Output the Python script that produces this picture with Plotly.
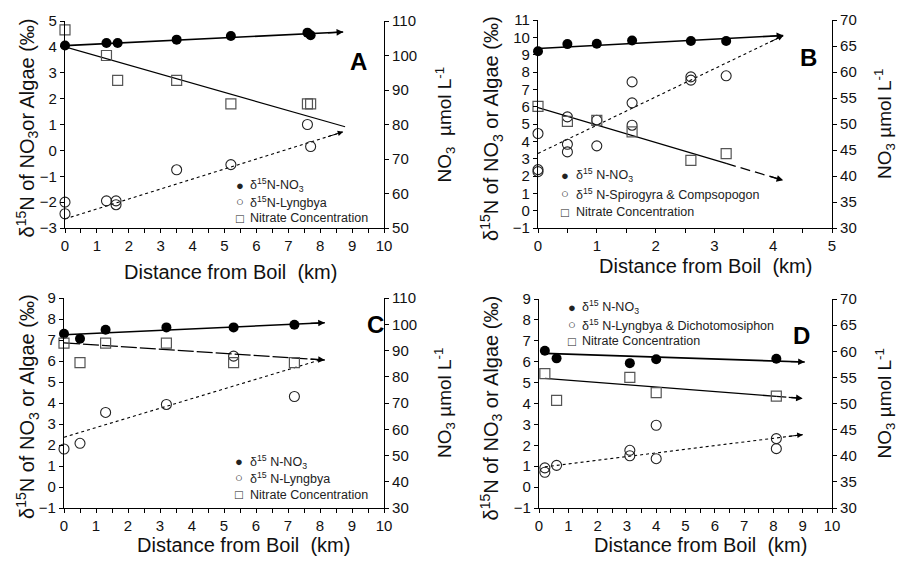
import plotly.graph_objects as go

FONT = "Liberation Sans, Arial, Helvetica, sans-serif"
W, H = 898, 564

# ---------------- Data ----------------
# Panel A
A_no3_x = [0, 1.3, 1.65, 3.5, 5.2, 7.6, 7.7]
A_no3_y = [4.05, 4.15, 4.15, 4.28, 4.42, 4.55, 4.45]
A_alg_x = [0, 0, 1.3, 1.6, 1.6, 3.5, 5.2, 7.6, 7.7]
A_alg_y = [-2.0, -2.45, -1.95, -1.95, -2.1, -0.75, -0.55, 1.0, 0.15]
A_nit_x = [0, 1.3, 1.65, 3.5, 5.2, 7.6, 7.7]
A_nit_y = [107.4, 100.0, 92.8, 92.8, 86.0, 86.0, 86.0]
# trend lines: [intercept, slope, x_start, x_end]
A_tr_no3 = [4.05, 0.06, 0, 8.72]
A_tr_alg = [-2.65, 0.386, 0, 8.72]
A_tr_nit = [102.5, -2.64, 0, 8.78]

# Panel B
B_no3_x = [0, 0.5, 1, 1.6, 2.6, 3.2]
B_no3_y = [9.2, 9.61, 9.63, 9.82, 9.79, 9.79]
B_alg_x = [0, 0, 0, 0.5, 0.5, 0.5, 1, 1, 1.6, 1.6, 1.6, 2.6, 2.6, 3.2]
B_alg_y = [4.45, 2.37, 2.25, 5.41, 3.83, 3.39, 5.22, 3.74, 7.43, 6.22, 4.93, 7.72, 7.53, 7.78]
B_nit_x = [0, 0.5, 1, 1.6, 2.6, 3.2]
B_nit_y = [53.4, 50.5, 50.7, 48.5, 43.0, 44.3]
B_tr_no3 = [9.36, 0.178, 0, 4.17]
B_tr_alg = [3.3, 1.63, 0, 4.17]
B_tr_nit = [53.17, -3.36, 0, 4.17]

# Panel C
C_no3_x = [0, 0.5, 1.3, 3.2, 5.3, 7.2]
C_no3_y = [7.3, 7.06, 7.49, 7.6, 7.6, 7.73]
C_alg_x = [0, 0.5, 1.3, 3.2, 5.3, 7.2]
C_alg_y = [1.81, 2.08, 3.55, 3.93, 6.23, 4.31]
C_nit_x = [0, 0.5, 1.3, 3.2, 5.3, 7.2]
C_nit_y = [92.8, 85.4, 92.8, 92.8, 85.4, 85.4]
C_tr_no3 = [7.25, 0.07, 0, 8.15]
C_tr_alg = [2.37, 0.46, 0, 8.0]
C_tr_nit = [92.9, -0.8, 0, 8.15]

# Panel D
D_no3_x = [0.2, 0.6, 3.1, 4.0, 8.1]
D_no3_y = [6.52, 6.16, 5.93, 6.12, 6.14]
D_alg_x = [0.2, 0.2, 0.6, 3.1, 3.1, 4.0, 4.0, 8.1, 8.1]
D_alg_y = [0.92, 0.71, 1.04, 1.76, 1.5, 2.96, 1.36, 2.32, 1.84]
D_nit_x = [0.2, 0.6, 3.1, 4.0, 8.1]
D_nit_y = [55.7, 50.6, 55.0, 52.1, 51.4]
D_tr_no3 = [6.41, -0.047, 0.2, 9.07]
D_tr_alg = [0.935, 0.175, 0.2, 9.0]
D_tr_nit = [54.9, -0.436, 0.2, 9.0]

Y_TITLE_A = "δ<sup>15</sup>N of NO<sub>3</sub>or Algae (‰)"
Y_TITLE = "δ<sup>15</sup>N of NO<sub>3</sub> or Algae (‰)"
Y2_TITLE_1 = "NO<sub>3</sub>  µmol L<sup>-1</sup>"
Y2_TITLE_2 = "NO<sub>3</sub> µmol L<sup>-1</sup>"
X_TITLE = "Distance from Boil \u00a0(km)"

panels = [
    dict(letter="A", xa="x", ya="y", yb="y2", xr=[0, 10], yr=[-3, 5], ydt=1, y2r=[50, 110], y2dt=10,
         px=(65, 384), py=(21, 228),
         no3=(A_no3_x, A_no3_y), alg=(A_alg_x, A_alg_y), nit=(A_nit_x, A_nit_y),
         tr_no3=A_tr_no3, tr_alg=A_tr_alg, tr_nit=A_tr_nit,
         arrows=(True, True, False), nit_style="solid",
         legend=["δ<sup>15</sup>N-NO<sub>3</sub>", "δ<sup>15</sup>N-Lyngbya", "Nitrate Concentration"],
         leg_pos=(240, 248, [185, 201.5, 218]),
         ytitle=Y_TITLE_A, y2title=Y2_TITLE_1, ytx=27, y2tx=445, xtitle_pos=(231, 272),
         letter_pos=(358, 62)),
    dict(letter="B", xa="x2", ya="y3", yb="y4", xr=[0, 5], yr=[-1, 11], ydt=1, y2r=[30, 70], y2dt=5,
         px=(538, 832), py=(20, 228),
         no3=(B_no3_x, B_no3_y), alg=(B_alg_x, B_alg_y), nit=(B_nit_x, B_nit_y),
         tr_no3=B_tr_no3, tr_alg=B_tr_alg, tr_nit=B_tr_nit,
         arrows=(True, True, True), nit_style="split",
         legend=["δ<sup>15</sup> N-NO<sub>3</sub>", "δ<sup>15</sup> N-Spirogyra & Compsopogon", "Nitrate Concentration"],
         leg_pos=(565, 574, [175, 193.5, 212]),
         ytitle=Y_TITLE, y2title=Y2_TITLE_2, ytx=491, y2tx=885, xtitle_pos=(705, 266),
         letter_pos=(808, 57)),
    dict(letter="C", xa="x3", ya="y5", yb="y6", xr=[0, 10], yr=[-1, 9], ydt=1, y2r=[30, 110], y2dt=10,
         px=(64, 384), py=(298, 508),
         no3=(C_no3_x, C_no3_y), alg=(C_alg_x, C_alg_y), nit=(C_nit_x, C_nit_y),
         tr_no3=C_tr_no3, tr_alg=C_tr_alg, tr_nit=C_tr_nit,
         arrows=(True, False, True), nit_style="dash",
         legend=["δ<sup>15</sup> N-NO<sub>3</sub>", "δ<sup>15</sup> N-Lyngbya", "Nitrate Concentration"],
         leg_pos=(239, 248, [461.5, 478, 494.5]),
         ytitle=Y_TITLE, y2title=Y2_TITLE_2, ytx=27, y2tx=445, xtitle_pos=(243, 545),
         letter_pos=(375, 324)),
    dict(letter="D", xa="x4", ya="y7", yb="y8", xr=[0, 10], yr=[-1, 9], ydt=1, y2r=[30, 70], y2dt=5,
         px=(539, 832), py=(299, 508),
         no3=(D_no3_x, D_no3_y), alg=(D_alg_x, D_alg_y), nit=(D_nit_x, D_nit_y),
         tr_no3=D_tr_no3, tr_alg=D_tr_alg, tr_nit=D_tr_nit,
         arrows=(True, True, True), nit_style="split",
         legend=["δ<sup>15</sup> N-NO<sub>3</sub>", "δ<sup>15</sup> N-Lyngbya & Dichotomosiphon", "Nitrate Concentration"],
         leg_pos=(572, 580, [307, 324.5, 341]),
         ytitle=Y_TITLE, y2title=Y2_TITLE_2, ytx=491, y2tx=885, xtitle_pos=(700, 545),
         letter_pos=(801, 335)),
]

fig = go.Figure()
annotations = []


def fx(px):
    return px / W


def fy(py):
    return 1 - py / H


def axname(ref):
    return ref[0] + "axis" + ref[1:]


def line_pts(tr, x_from=None, x_to=None):
    b, m, x0, x1 = tr
    if x_from is None:
        x_from = x0
    if x_to is None:
        x_to = x1
    return [x_from, x_to], [b + m * x_from, b + m * x_to]


def add_arrow(xa, ya, tr, width):
    b, m, x0, x1 = tr
    back = x1 - (x1 - x0) * 0.06
    annotations.append(dict(
        x=x1, y=b + m * x1, ax=back, ay=b + m * back,
        xref=xa, yref=ya, axref=xa, ayref=ya,
        showarrow=True, arrowhead=2, arrowsize=1.1, arrowwidth=width,
        arrowcolor="black", text="", standoff=0, startstandoff=0))


for p in panels:
    xa, ya, yb = p["xa"], p["ya"], p["yb"]
    # trend lines
    xs, ys = line_pts(p["tr_no3"])
    fig.add_trace(go.Scatter(x=xs, y=ys, mode="lines", xaxis=xa, yaxis=ya,
                             line=dict(color="black", width=1.6), showlegend=False, hoverinfo="skip"))
    xs, ys = line_pts(p["tr_alg"])
    fig.add_trace(go.Scatter(x=xs, y=ys, mode="lines", xaxis=xa, yaxis=ya,
                             line=dict(color="black", width=1.1, dash="dot"), showlegend=False, hoverinfo="skip"))
    if p["nit_style"] == "split":
        last = max(p["nit"][0])
        xs, ys = line_pts(p["tr_nit"], x_to=last)
        fig.add_trace(go.Scatter(x=xs, y=ys, mode="lines", xaxis=xa, yaxis=yb,
                                 line=dict(color="black", width=1.3), showlegend=False, hoverinfo="skip"))
        xs, ys = line_pts(p["tr_nit"], x_from=last)
        fig.add_trace(go.Scatter(x=xs, y=ys, mode="lines", xaxis=xa, yaxis=yb,
                                 line=dict(color="black", width=1.3, dash="10px,5px"), showlegend=False, hoverinfo="skip"))
    elif p["nit_style"] == "dash":
        xs, ys = line_pts(p["tr_nit"])
        fig.add_trace(go.Scatter(x=xs, y=ys, mode="lines", xaxis=xa, yaxis=yb,
                                 line=dict(color="black", width=1.3, dash="16px,3px"), showlegend=False, hoverinfo="skip"))
    else:
        xs, ys = line_pts(p["tr_nit"])
        fig.add_trace(go.Scatter(x=xs, y=ys, mode="lines", xaxis=xa, yaxis=yb,
                                 line=dict(color="black", width=1.1), showlegend=False, hoverinfo="skip"))
    a_no3, a_alg, a_nit = p["arrows"]
    if a_no3:
        add_arrow(xa, ya, p["tr_no3"], 1.2)
    if a_alg:
        add_arrow(xa, ya, p["tr_alg"], 1.0)
    if a_nit:
        add_arrow(xa, yb, p["tr_nit"], 1.2)

    # markers
    fig.add_trace(go.Scatter(x=p["nit"][0], y=p["nit"][1], mode="markers", xaxis=xa, yaxis=yb,
                             marker=dict(symbol="square-open", size=10, color="#555555", line=dict(width=1.2)),
                             cliponaxis=False, showlegend=False, name="Nitrate Concentration"))
    fig.add_trace(go.Scatter(x=p["alg"][0], y=p["alg"][1], mode="markers", xaxis=xa, yaxis=ya,
                             marker=dict(symbol="circle-open", size=10, color="#222222", line=dict(width=1.1)),
                             cliponaxis=False, showlegend=False, name="algae"))
    fig.add_trace(go.Scatter(x=p["no3"][0], y=p["no3"][1], mode="markers", xaxis=xa, yaxis=ya,
                             marker=dict(symbol="circle", size=10, color="black"),
                             cliponaxis=False, showlegend=False, name="NO3"))

    # axes
    xdom = [fx(p["px"][0]), fx(p["px"][1])]
    ydom = [fy(p["py"][1]), fy(p["py"][0])]
    common_tick = dict(tickfont=dict(family=FONT, size=15, color="#111111"), ticks="outside",
                       ticklen=4, tickwidth=1, tickcolor="black", showline=True, linecolor="black",
                       linewidth=1.2, showgrid=False, zeroline=False, automargin=False)
    fig.update_layout(**{
        axname(xa): dict(domain=xdom, range=p["xr"], dtick=1, anchor=ya,
                         minor=dict(dtick=0.5, ticks="outside", ticklen=4, tickcolor="black"),
                         **common_tick),
        axname(ya): dict(domain=ydom, range=p["yr"], dtick=p["ydt"], anchor=xa, **common_tick),
        axname(yb): dict(range=p["y2r"], dtick=p["y2dt"], anchor=xa, overlaying=ya, side="right",
                         **common_tick),
    })

    # axis titles
    ymid = (p["py"][0] + p["py"][1]) / 2
    annotations.append(dict(text=p["ytitle"], x=fx(p["ytx"]), y=fy(ymid + 4), xref="paper", yref="paper",
                            textangle=-90, showarrow=False, xanchor="center", yanchor="middle",
                            font=dict(family=FONT, size=20, color="#111111")))
    annotations.append(dict(text=p["y2title"], x=fx(p["y2tx"]), y=fy(ymid), xref="paper", yref="paper",
                            textangle=-90, showarrow=False, xanchor="center", yanchor="middle",
                            font=dict(family=FONT, size=19, color="#111111")))
    annotations.append(dict(text=X_TITLE, x=fx(p["xtitle_pos"][0]), y=fy(p["xtitle_pos"][1]),
                            xref="paper", yref="paper", showarrow=False, xanchor="center", yanchor="middle",
                            font=dict(family=FONT, size=20, color="#111111")))
    # panel letter
    annotations.append(dict(text="<b>%s</b>" % p["letter"], x=fx(p["letter_pos"][0]), y=fy(p["letter_pos"][1]),
                            xref="paper", yref="paper", showarrow=False, xanchor="center", yanchor="middle",
                            font=dict(family=FONT, size=24, color="black")))
    # legend (text annotations)
    gx, tx, rows = p["leg_pos"]
    glyphs = [("●", 13), ("○", 13), ("□", 13)]
    for (g, gs), lab, ry in zip(glyphs, p["legend"], rows):
        annotations.append(dict(text=g, x=fx(gx), y=fy(ry), xref="paper", yref="paper", showarrow=False,
                                xanchor="center", yanchor="middle",
                                font=dict(family=FONT, size=gs, color="#222222")))
        annotations.append(dict(text=lab, x=fx(tx), y=fy(ry), xref="paper", yref="paper", showarrow=False,
                                xanchor="left", yanchor="middle",
                                font=dict(family=FONT, size=12.5, color="#222222")))

fig.update_layout(width=W, height=H, margin=dict(l=0, r=0, t=0, b=0, autoexpand=False), autosize=False,
                  paper_bgcolor="white", plot_bgcolor="white", showlegend=False,
                  annotations=annotations, font=dict(family=FONT))

fig.write_html("out.html", config={"displayModeBar": False},
               post_script="document.body.style.margin='0px';document.body.style.overflow='hidden';")
